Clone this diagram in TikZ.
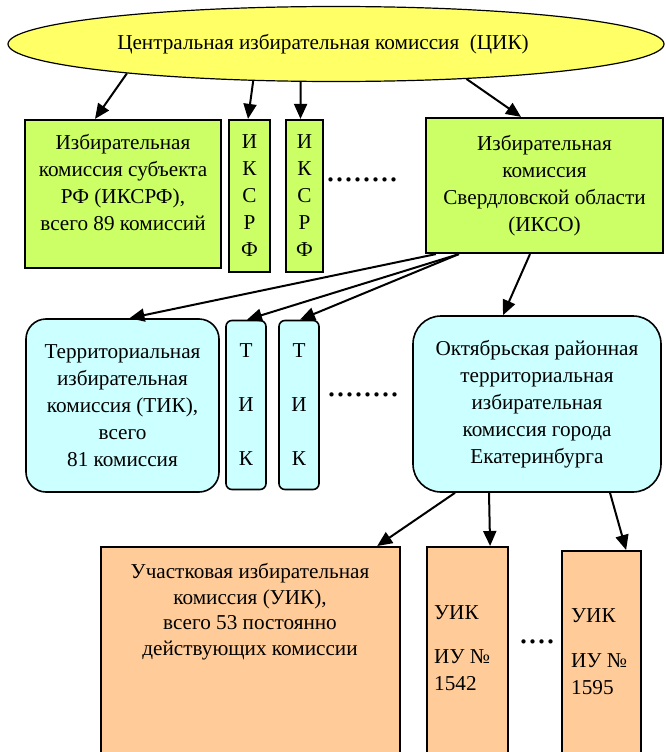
\documentclass[tikz,border=0pt]{standalone}
\usepackage{fontspec}
\setmainfont{Liberation Serif}
\usetikzlibrary{positioning, shapes.geometric, arrows.meta}
\definecolor{cikyellow}{HTML}{FFFF66}
\definecolor{ikgreen}{HTML}{CCFF66}
\definecolor{tikcyan}{HTML}{CCFFFF}
\definecolor{uikorange}{HTML}{FFCC99}

\begin{document}
\begin{tikzpicture}[x=1pt, y=-1pt,
font=\fontsize{21.2}{27}\selectfont,
ovalnode/.style={ellipse, draw=black, fill=cikyellow, line width=1.2pt, minimum width=656pt, minimum height=75pt, inner sep=0pt},
greennode/.style={rectangle, draw=black, fill=ikgreen, line width=2.2pt, inner sep=0pt, align=center},
cyannode/.style={rectangle, rounded corners=20pt, draw=black, fill=tikcyan, line width=1.6pt, inner sep=0pt, align=center},
orangenode/.style={rectangle, draw=black, fill=uikorange, line width=2.2pt, inner sep=0pt, anchor=north west},
textnode/.style={inner sep=0pt, anchor=base},
dotsnode/.style={inner sep=0pt, font=\fontsize{36}{36}\selectfont},
arr/.style={-{Triangle[length=15pt,width=13pt]}, line width=2pt},
]
\clip (0,0) rectangle (665,752);
%Nodes
\node[ovalnode]      (cik)       at (336,44)     {Центральная избирательная комиссия\ \ (ЦИК)\hspace*{26pt}};

\node[greennode, minimum width=196pt, minimum height=148pt]  (iksrf)  at (123,194)  {};
\node[textnode, align=center]      (iksrftext)   at (123,230.5)   {Избирательная\\комиссия субъекта\\РФ (ИКСРФ),\\всего 89 комиссий};
\node[greennode, minimum width=41pt, minimum height=152pt]   (iksrfa) at (249.5,196) {И\\К\\С\\Р\\Ф};
\node[greennode, minimum width=37pt, minimum height=152pt]   (iksrfb) at (304.5,196) {И\\К\\С\\Р\\Ф};
\node[dotsnode]      (dotsa)     at (362,180)    {........};
\node[greennode, minimum width=237pt, minimum height=135pt]  (ikso)   at (544.5,185.5) {Избирательная\\комиссия\\Свердловской области\\(ИКСО)};

\node[cyannode, minimum width=193pt, minimum height=173pt]   (tik)    at (122.5,405.5) {Территориальная\\избирательная\\комиссия (ТИК),\\всего\\81 комиссия};
\node[cyannode, rounded corners=6pt, minimum width=40pt, minimum height=169pt] (tika) at (246,405) {Т\\[27pt]И\\[27pt]К};
\node[cyannode, rounded corners=6pt, minimum width=40pt, minimum height=169pt] (tikb) at (299,405) {Т\\[27pt]И\\[27pt]К};
\node[dotsnode]      (dotsb)     at (363,395)    {........};
\node[cyannode, rounded corners=28pt, minimum width=248pt, minimum height=176pt] (oct) at (537,404) {Октябрьская районная\\территориальная\\избирательная\\комиссия города\\Екатеринбурга};

\node[orangenode, minimum width=299pt, minimum height=254pt] (uik)    at (100,546) {};
\node[textnode, align=center, font=\fontsize{21.2}{25.5}\selectfont] (uiktext) at (250,655) {Участковая избирательная\\комиссия (УИК),\\всего 53 постоянно\\действующих комиссии};
\node[orangenode, minimum width=81pt, minimum height=254pt]  (uika)   at (426,546) {};
\node[textnode, anchor=base west, align=left] (uikatext) at (434,690) {УИК\\[17pt]ИУ №\\1542};
\node[dotsnode]      (dotsc)     at (537,642)    {....};
\node[orangenode, minimum width=79pt, minimum height=250pt]  (uikb)   at (561,550) {};
\node[textnode, anchor=base west, align=left] (uikbtext) at (571,694) {УИК\\[18pt]ИУ №\\1595};

%Lines
\draw[arr] (cik.-172) -- ([xshift=-28pt]iksrf.north);
\draw[arr] (cik.-156) -- ([xshift=-1.5pt]iksrfa.north);
\draw[arr] (cik.-133) -- ([xshift=-4pt]iksrfb.north);
\draw[arr] (cik.-15) -- ([xshift=-23.5pt]ikso.north);

\draw[arr] ([xshift=11pt]ikso.south west) -- ([xshift=7pt]tik.north);
\draw[arr] ([xshift=34pt]ikso.south west) -- ([xshift=1pt]tika.north);
\draw[arr] ([xshift=34pt]ikso.south west) -- ([xshift=1pt]tikb.north);
\draw[arr] ([xshift=-14.5pt]ikso.south) -- ([xshift=-34pt]oct.north);

\draw[arr] ([xshift=-82pt]oct.south) -- ([xshift=-24pt]uik.north east);
\draw[arr] ([xshift=-48pt]oct.south) -- ([xshift=22.5pt]uika.north);
\draw[arr] ([xshift=73pt]oct.south) -- ([xshift=24.5pt]uikb.north);
\end{tikzpicture}
\end{document}
